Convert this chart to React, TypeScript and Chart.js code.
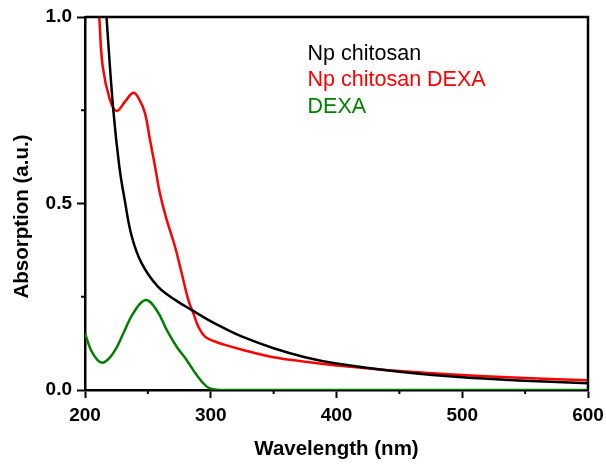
import React, { useEffect, useRef } from "react";
import { Chart, registerables } from "chart.js";

Chart.register(...registerables);

const FONT = "'Liberation Sans', Arial, Helvetica, sans-serif";

// Np chitosan (black)
const npChitosanWl = [215, 217.2, 222.5, 227.3, 231.8, 237.1, 245, 258, 272, 285, 298, 311, 325, 350, 375, 400, 450, 500, 550, 600];
const npChitosanAbs = [1.12, 0.996, 0.751, 0.599, 0.505, 0.413, 0.34, 0.277, 0.241, 0.214, 0.188, 0.165, 0.143, 0.112, 0.088, 0.071, 0.049, 0.034, 0.025, 0.018];

// Np chitosan DEXA (red)
const npDexaWl = [209, 211.4, 214.1, 219.9, 225.2, 231.8, 238.4, 243, 247.7, 251.7, 255.7, 259.6, 265, 271.6, 276.9, 282.2, 286.1, 290.1, 295.4, 303.4, 311.3, 325, 350, 375, 400, 450, 500, 550, 600];
const npDexaAbs = [1.12, 0.996, 0.867, 0.777, 0.748, 0.773, 0.797, 0.78, 0.742, 0.67, 0.599, 0.527, 0.456, 0.384, 0.313, 0.241, 0.206, 0.17, 0.143, 0.13, 0.121, 0.108, 0.088, 0.076, 0.066, 0.051, 0.04, 0.032, 0.026];

// DEXA (green)
const dexaWl = [200, 205, 210, 214.1, 220, 225, 230.5, 238.4, 248.2, 257, 265, 272.9, 280.9, 288.8, 296.8, 302, 308, 400, 500, 600];
const dexaAbs = [0.152, 0.105, 0.08, 0.073, 0.088, 0.113, 0.152, 0.206, 0.241, 0.214, 0.161, 0.116, 0.08, 0.04, 0.009, 0.002, 0, 0, 0, 0];

const seriesNames = ["Np chitosan", "Np chitosan DEXA", "DEXA"];
const seriesColors = ["#000000", "#ff0000", "#008000"];

const xMajorTicks = [200, 300, 400, 500, 600];
const xMinorTicks = [250, 350, 450, 550];
const yMajorTicks = [0, 0.5, 1.0];
const yMinorTicks = [0.25, 0.75];

const toPoints = (xs: number[], ys: number[]) => xs.map((x, i) => ({ x, y: ys[i] }));

const decorPlugin = {
  id: "decor",
  afterDraw(chart: any) {
    const { ctx, chartArea, scales } = chart;
    const xs = scales.x;
    const ys = scales.y;
    ctx.save();
    ctx.strokeStyle = "#000";
    ctx.lineWidth = 2.5;
    ctx.beginPath();
    ctx.moveTo(chartArea.left, chartArea.top);
    ctx.lineTo(chartArea.right, chartArea.top);
    ctx.lineTo(chartArea.right, chartArea.bottom);
    ctx.stroke();
    ctx.lineWidth = 2;
    for (const v of xMinorTicks) {
      const px = xs.getPixelForValue(v);
      ctx.beginPath();
      ctx.moveTo(px, chartArea.bottom);
      ctx.lineTo(px, chartArea.bottom + 4);
      ctx.stroke();
    }
    for (const v of yMinorTicks) {
      const py = ys.getPixelForValue(v);
      ctx.beginPath();
      ctx.moveTo(chartArea.left, py);
      ctx.lineTo(chartArea.left - 4, py);
      ctx.stroke();
    }
    ctx.font = `21.5px ${FONT}`;
    ctx.textAlign = "left";
    ctx.textBaseline = "middle";
    const lx = xs.getPixelForValue(377);
    seriesNames.forEach((name, i) => {
      ctx.fillStyle = seriesColors[i];
      ctx.fillText(name, lx, chartArea.top + 37 + i * 26.5);
    });
    ctx.fillStyle = "#000";
    ctx.font = `bold 20.5px ${FONT}`;
    ctx.textAlign = "center";
    ctx.fillText("Wavelength (nm)", (chartArea.left + chartArea.right) / 2, 449);
    ctx.save();
    ctx.translate(22, 216.5);
    ctx.rotate(-Math.PI / 2);
    ctx.fillText("Absorption (a.u.)", 0, 0);
    ctx.restore();
    ctx.restore();
  },
};

export default function App() {
  const ref = useRef<HTMLCanvasElement | null>(null);
  useEffect(() => {
    if (!ref.current) return;
    const mk = (label: string, xs: number[], ys: number[], color: string) => ({
      label,
      data: toPoints(xs, ys),
      borderColor: color,
      backgroundColor: color,
      borderWidth: 2.5,
      pointRadius: 0,
      tension: 0.4,
      clip: 0,
    });
    const chart = new Chart(ref.current, {
      type: "line",
      data: {
        datasets: [
          mk(seriesNames[2], dexaWl, dexaAbs, seriesColors[2]),
          mk(seriesNames[0], npChitosanWl, npChitosanAbs, seriesColors[0]),
          mk(seriesNames[1], npDexaWl, npDexaAbs, seriesColors[1]),
        ],
      },
      options: {
        responsive: false,
        animation: false,
        layout: { padding: { top: 17, right: 18, left: 0, bottom: 0 } },
        plugins: { legend: { display: false }, tooltip: { enabled: false } },
        scales: {
          x: {
            type: "linear",
            min: 200,
            max: 600,
            afterFit: (s: any) => { s.height = 74; s.paddingLeft = 0; s.paddingRight = 0; },
            afterBuildTicks: (s: any) => { s.ticks = xMajorTicks.map((v) => ({ value: v })); },
            ticks: {
              autoSkip: false,
              maxRotation: 0,
              padding: 6,
              color: "#000",
              font: { family: FONT, size: 19, weight: "bold" },
              callback: (v: any) => String(v),
            },
            grid: { drawOnChartArea: false, tickLength: 8, tickWidth: 2, tickColor: "#000" },
            border: { color: "#000", width: 2.5 },
          },
          y: {
            type: "linear",
            min: 0,
            max: 1,
            afterFit: (s: any) => { s.width = 85; s.paddingTop = 0; s.paddingBottom = 0; },
            afterBuildTicks: (s: any) => { s.ticks = yMajorTicks.map((v) => ({ value: v })); },
            ticks: {
              padding: 5,
              color: "#000",
              font: { family: FONT, size: 19, weight: "bold" },
              callback: (v: any) => Number(v).toFixed(1),
            },
            grid: { drawOnChartArea: false, tickLength: 8, tickWidth: 2, tickColor: "#000" },
            border: { color: "#000", width: 2.5 },
          },
        },
      },
      plugins: [decorPlugin],
    });
    return () => chart.destroy();
  }, []);
  return (
    <canvas
      ref={ref}
      width={606}
      height={464}
      style={{ position: "fixed", left: 0, top: 0, width: 606, height: 464, background: "#fff" }}
    />
  );
}
